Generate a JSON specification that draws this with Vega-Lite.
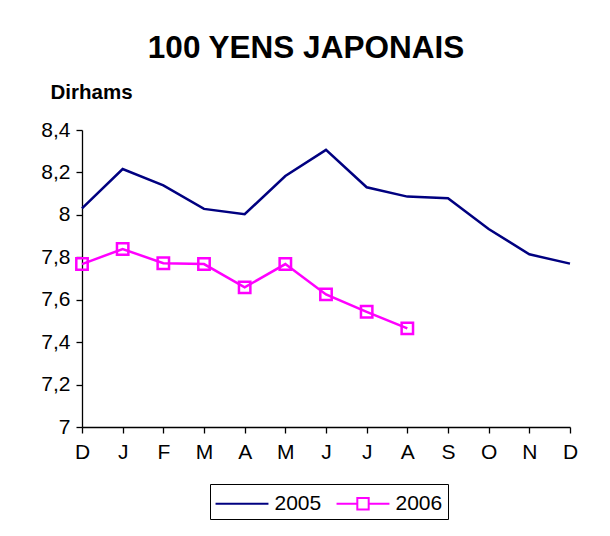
{
  "$schema": "https://vega.github.io/schema/vega-lite/v6.json",
  "autosize": "none",
  "width": 488,
  "height": 297,
  "padding": {"left": 82, "top": 130, "right": 40, "bottom": 109},
  "background": "white",
  "config": {
    "font": "Liberation Sans",
    "view": {"stroke": null},
    "axis": {"grid": false, "domainColor": "black", "tickColor": "black", "labelColor": "black", "labelFont": "Liberation Sans", "labelFontSize": 21, "tickSize": 6, "domainWidth": 1.3, "tickWidth": 1.3}
  },
  "title": {
    "text": "100 YENS JAPONAIS",
    "font": "Liberation Sans",
    "fontSize": 31.5,
    "fontWeight": "bold",
    "color": "black",
    "anchor": "middle",
    "frame": "group",
    "dx": -20,
    "offset": 18
  },
  "data": {
    "values": [
      {"mois": "D1", "annee": "2005", "valeur": 8.031},
      {"mois": "J1", "annee": "2005", "valeur": 8.216},
      {"mois": "F1", "annee": "2005", "valeur": 8.139},
      {"mois": "M1", "annee": "2005", "valeur": 8.028},
      {"mois": "A1", "annee": "2005", "valeur": 8.003},
      {"mois": "M2", "annee": "2005", "valeur": 8.183},
      {"mois": "J2", "annee": "2005", "valeur": 8.306},
      {"mois": "J3", "annee": "2005", "valeur": 8.130},
      {"mois": "A2", "annee": "2005", "valeur": 8.086},
      {"mois": "S1", "annee": "2005", "valeur": 8.078},
      {"mois": "O1", "annee": "2005", "valeur": 7.933},
      {"mois": "N1", "annee": "2005", "valeur": 7.814},
      {"mois": "D2", "annee": "2005", "valeur": 7.770},
      {"mois": "D1", "annee": "2006", "valeur": 7.768},
      {"mois": "J1", "annee": "2006", "valeur": 7.839},
      {"mois": "F1", "annee": "2006", "valeur": 7.772},
      {"mois": "M1", "annee": "2006", "valeur": 7.768},
      {"mois": "A1", "annee": "2006", "valeur": 7.658},
      {"mois": "M2", "annee": "2006", "valeur": 7.768},
      {"mois": "J2", "annee": "2006", "valeur": 7.625},
      {"mois": "J3", "annee": "2006", "valeur": 7.543},
      {"mois": "A2", "annee": "2006", "valeur": 7.465}
    ]
  },
  "encoding": {
    "x": {
      "field": "mois",
      "type": "ordinal",
      "sort": ["D1","J1","F1","M1","A1","M2","J2","J3","A2","S1","O1","N1","D2"],
      "scale": {"type": "point", "padding": 0},
      "axis": {"title": null, "labelAngle": 0, "labelPadding": 8, "labelExpr": "substring(datum.label, 0, 1)"}
    },
    "y": {
      "field": "valeur",
      "type": "quantitative",
      "scale": {"domain": [7, 8.4], "zero": false, "nice": false},
      "axis": {
        "values": [7, 7.2, 7.4, 7.6, 7.8, 8, 8.2, 8.4],
        "labelExpr": "replace(format(datum.value, '~g'), '.', ',')",
        "labelPadding": 6,
        "title": "Dirhams",
        "titleAngle": 0,
        "titleFontSize": 20.5,
        "titleFontWeight": "bold",
        "titleColor": "black",
        "titleAlign": "left",
        "titleBaseline": "alphabetic",
        "titleX": -32,
        "titleY": -32
      }
    },
    "color": {
      "field": "annee",
      "type": "nominal",
      "scale": {"domain": ["2005", "2006"], "range": ["#000080", "#FF00FF"]},
      "legend": {
        "title": null,
        "orient": "none",
        "legendX": 128,
        "legendY": 354,
        "direction": "horizontal",
        "strokeColor": "black",
        "fillColor": "white",
        "padding": 5,
        "labelFontSize": 21,
        "labelColor": "black",
        "symbolSize": 700,
        "symbolStrokeWidth": 2,
        "symbolType": "M-2,0H2",
        "symbolOffset": 12.5,
        "labelOffset": 18,
        "columnPadding": 10,
        "encode": {
          "symbols": {
            "update": {
              "shape": {"signal": "datum.value == '2006' ? 'M-2,0H-0.43M0.43,0H2M-0.43,-0.43H0.43V0.43H-0.43Z' : 'M-2,0H2'"},
              "fill": {"value": "transparent"}
            }
          }
        }
      }
    }
  },
  "layer": [
    {"mark": {"type": "line", "strokeWidth": 2.5}},
    {
      "transform": [{"filter": "datum.annee == '2006'"}],
      "mark": {"type": "point", "shape": "square", "size": 130, "filled": false, "strokeWidth": 2.5, "fill": "white", "fillOpacity": 0, "opacity": 1},
      "encoding": {"color": {"field": "annee", "type": "nominal", "legend": null}}
    }
  ]
}
